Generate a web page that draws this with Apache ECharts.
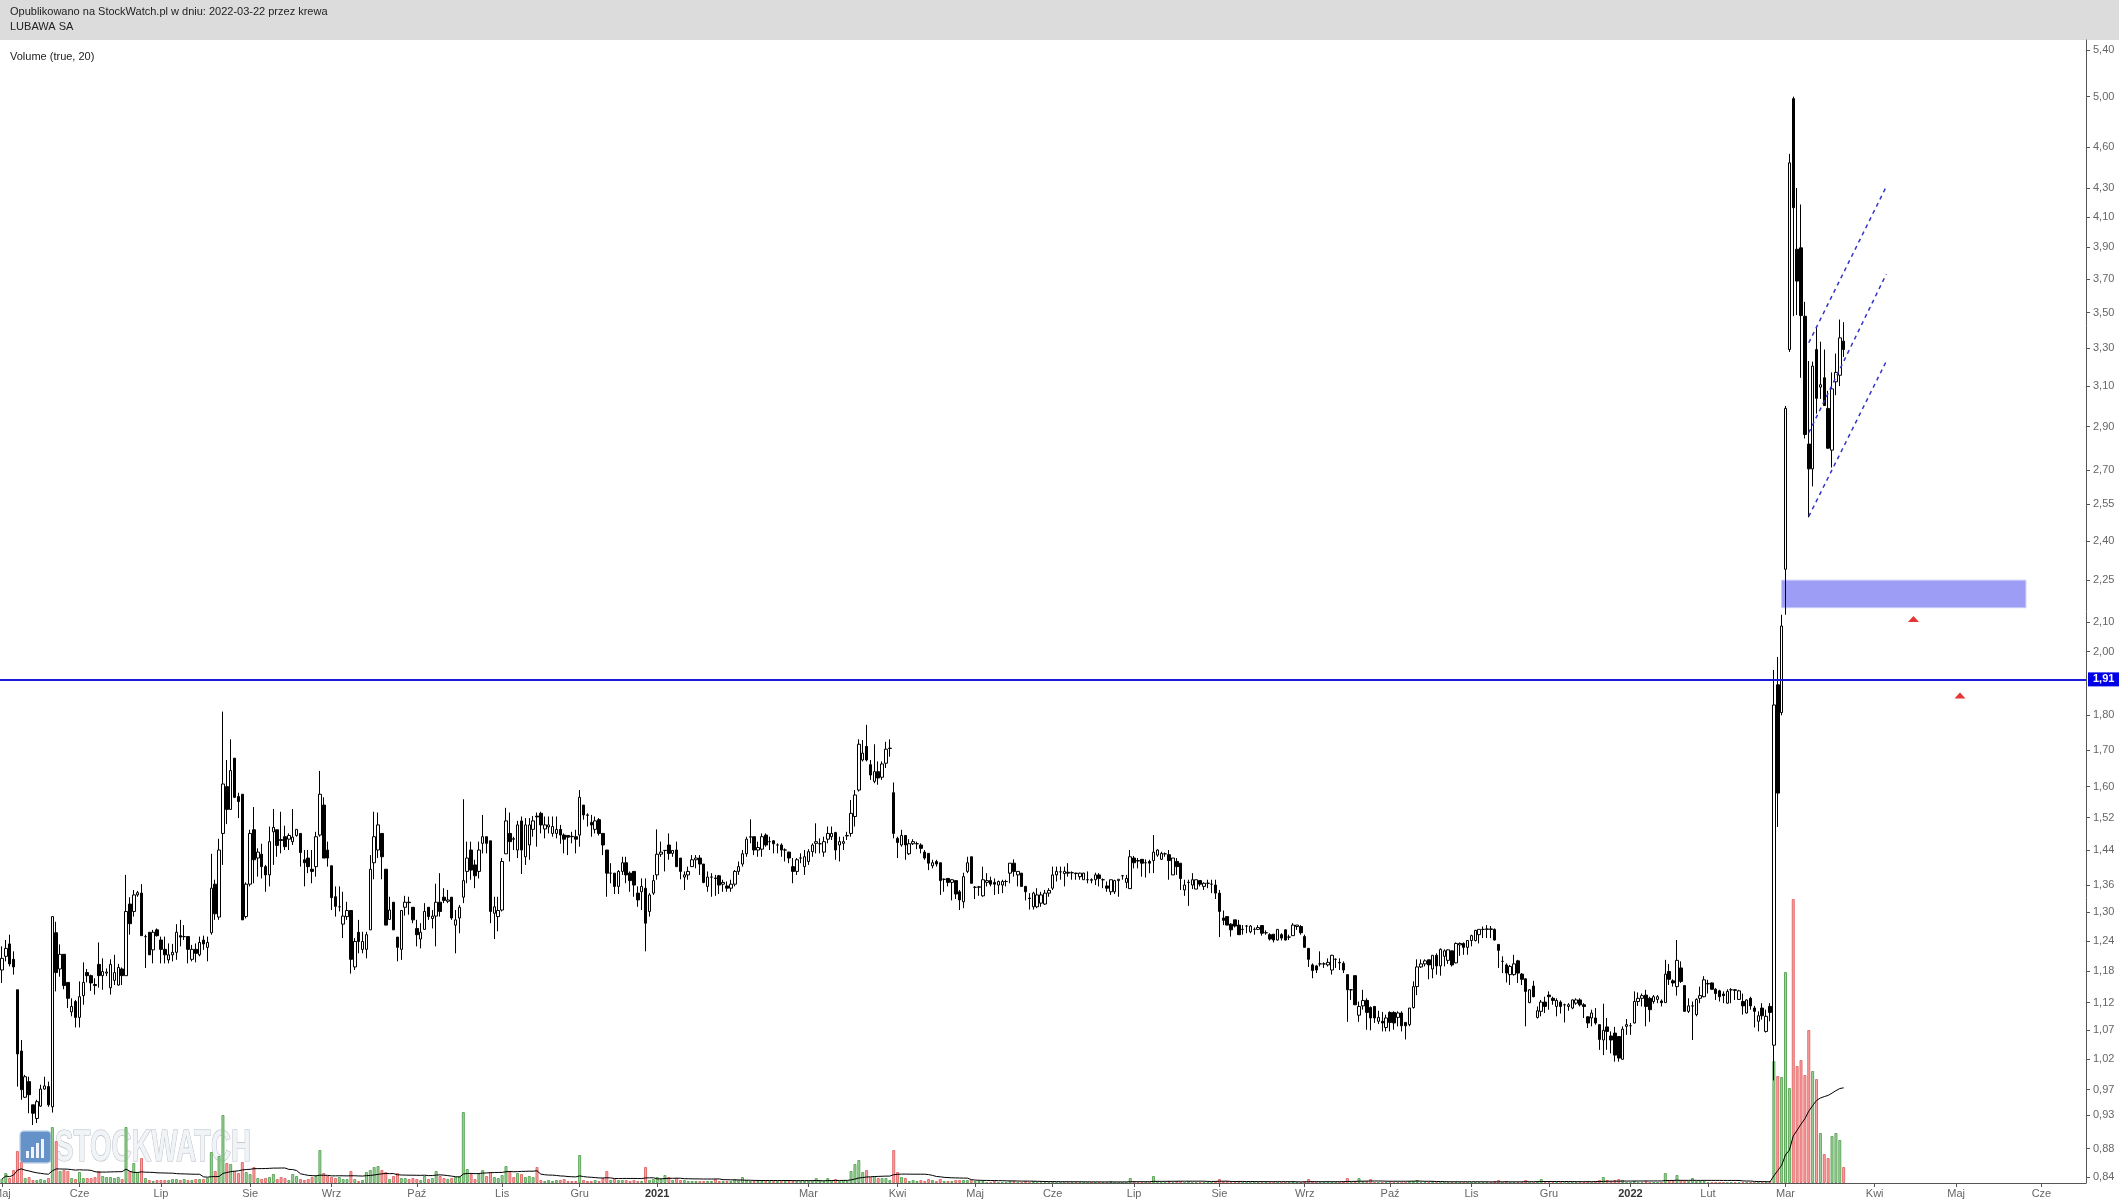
<!DOCTYPE html>
<html><head><meta charset="utf-8">
<script src="https://cdn.jsdelivr.net/npm/echarts@6/dist/echarts.min.js"></script>
<style>html,body{margin:0;padding:0;background:#fff}#c{width:2119px;height:1202px}</style>
</head><body><div id="c"></div>
<script>
// ---------- calendar ----------
const startDate = '2020-05-04';
const lastDataDate = '2022-03-22';
const totalSlots = 538;
const holidays = ['2020-06-11','2020-11-11','2020-12-24','2020-12-25','2020-12-31','2021-01-01','2021-01-06','2021-04-02','2021-04-05','2021-05-03','2021-06-03','2021-11-01','2021-11-11','2021-12-24','2021-12-31','2022-01-06'];
const monthNames = ['Sty','Lut','Mar','Kwi','Maj','Cze','Lip','Sie','Wrz','Paź','Lis','Gru'];
const hiddenMonthLabels = ['2021-02'];

// ---------- price axis ticks ----------
const yTickValues = [5.40,5.00,4.60,4.30,4.10,3.90,3.70,3.50,3.30,3.10,2.90,2.70,2.55,2.40,2.25,2.10,2.00,1.80,1.70,1.60,1.52,1.44,1.36,1.30,1.24,1.18,1.12,1.07,1.02,0.97,0.93,0.88,0.84];
const supportLevel = 1.91;

// ---------- daily candles [open, close, low, high] ----------
const candles = [
[1.182,1.205,1.157,1.229],[1.209,1.225,1.199,1.242],[1.234,1.194,1.189,1.253],[1.203,1.188,1.173,1.219],[1.144,1.029,0.975,1.144],
[1.034,0.970,0.954,1.053],[0.958,0.991,0.957,0.994],[0.983,0.962,0.933,0.991],[0.946,0.933,0.915,0.946],[0.925,0.951,0.918,0.954],
[0.944,0.971,0.943,0.978],[0.971,0.976,0.970,0.991],[0.975,0.946,0.943,0.983],[0.943,1.291,0.934,1.292],[1.257,1.177,1.141,1.280],
[1.184,1.213,1.169,1.233],[1.213,1.152,1.145,1.213],[1.158,1.128,1.110,1.158],[1.103,1.113,1.095,1.128],[1.122,1.093,1.075,1.125],
[1.093,1.131,1.075,1.160],[1.133,1.158,1.116,1.197],[1.177,1.171,1.158,1.184],[1.171,1.157,1.142,1.173],[1.154,1.152,1.135,1.166],
[1.193,1.171,1.148,1.237],[1.171,1.179,1.144,1.205],[1.176,1.178,1.170,1.185],[1.148,1.193,1.135,1.203],[1.162,1.177,1.153,1.212],
[1.153,1.187,1.152,1.194],[1.184,1.171,1.153,1.187],[1.171,1.302,1.171,1.383],[1.318,1.276,1.253,1.333],[1.302,1.338,1.291,1.349],
[1.338,1.343,1.334,1.347],[1.342,1.251,1.251,1.362],[1.249,1.249,1.186,1.253],[1.258,1.212,1.212,1.258],[1.222,1.258,1.195,1.263],
[1.263,1.251,1.249,1.266],[1.242,1.223,1.195,1.249],[1.223,1.212,1.195,1.249],[1.202,1.212,1.195,1.235],[1.212,1.217,1.199,1.234],
[1.217,1.258,1.202,1.275],[1.251,1.248,1.229,1.284],[1.249,1.249,1.242,1.273],[1.249,1.223,1.195,1.249],[1.203,1.223,1.199,1.232],
[1.223,1.215,1.197,1.235],[1.212,1.237,1.209,1.249],[1.242,1.234,1.222,1.251],[1.227,1.237,1.199,1.249],[1.257,1.353,1.253,1.432],
[1.362,1.297,1.284,1.372],[1.290,1.441,1.284,1.468],[1.481,1.607,1.406,1.811],[1.600,1.541,1.504,1.672],[1.541,1.643,1.540,1.730],
[1.677,1.572,1.570,1.677],[1.574,1.561,1.519,1.584],[1.580,1.284,1.284,1.580],[1.291,1.362,1.287,1.366],[1.362,1.481,1.357,1.490],
[1.490,1.418,1.364,1.547],[1.422,1.436,1.379,1.445],[1.431,1.402,1.375,1.456],[1.402,1.383,1.345,1.406],[1.383,1.461,1.357,1.498],
[1.485,1.496,1.406,1.542],[1.490,1.452,1.425,1.490],[1.466,1.464,1.433,1.535],[1.473,1.449,1.441,1.500],[1.467,1.476,1.441,1.481],
[1.461,1.472,1.453,1.542],[1.476,1.491,1.473,1.491],[1.481,1.435,1.402,1.481],[1.418,1.411,1.357,1.441],[1.422,1.402,1.387,1.441],
[1.396,1.391,1.364,1.441],[1.402,1.473,1.379,1.485],[1.477,1.580,1.473,1.642],[1.552,1.422,1.422,1.572],[1.441,1.422,1.402,1.461],
[1.404,1.332,1.305,1.404],[1.334,1.313,1.291,1.357],[1.312,1.312,1.302,1.357],[1.275,1.292,1.246,1.345],[1.291,1.304,1.284,1.323],
[1.304,1.203,1.175,1.304],[1.188,1.239,1.182,1.246],[1.258,1.239,1.215,1.284],[1.223,1.239,1.215,1.259],[1.223,1.253,1.205,1.259],
[1.263,1.396,1.263,1.429],[1.411,1.473,1.373,1.535],[1.441,1.502,1.422,1.533],[1.481,1.425,1.373,1.481],[1.396,1.273,1.273,1.396],
[1.285,1.305,1.284,1.334],[1.322,1.263,1.263,1.322],[1.248,1.227,1.199,1.248],[1.223,1.304,1.202,1.304],[1.311,1.322,1.293,1.336],
[1.322,1.321,1.295,1.334],[1.311,1.284,1.277,1.311],[1.266,1.253,1.229,1.284],[1.244,1.258,1.225,1.277],[1.264,1.302,1.264,1.320],
[1.311,1.291,1.284,1.311],[1.287,1.292,1.266,1.305],[1.292,1.322,1.229,1.363],[1.322,1.302,1.291,1.387],[1.333,1.326,1.320,1.353],
[1.324,1.327,1.320,1.349],[1.333,1.288,1.284,1.333],[1.273,1.284,1.215,1.305],[1.288,1.311,1.256,1.316],[1.333,1.370,1.320,1.567],
[1.391,1.422,1.364,1.461],[1.441,1.394,1.372,1.461],[1.406,1.381,1.353,1.418],[1.391,1.441,1.375,1.461],[1.457,1.473,1.433,1.527],
[1.473,1.457,1.433,1.473],[1.463,1.302,1.277,1.463],[1.298,1.312,1.244,1.334],[1.291,1.304,1.260,1.334],[1.305,1.414,1.302,1.422],
[1.432,1.512,1.432,1.545],[1.481,1.461,1.414,1.533],[1.468,1.467,1.441,1.473],[1.441,1.502,1.422,1.512],[1.512,1.441,1.385,1.523],
[1.425,1.502,1.406,1.519],[1.453,1.502,1.418,1.519],[1.491,1.512,1.473,1.524],[1.524,1.522,1.449,1.533],[1.531,1.502,1.481,1.535],
[1.492,1.502,1.469,1.523],[1.497,1.502,1.481,1.523],[1.481,1.498,1.473,1.523],[1.481,1.491,1.469,1.523],[1.491,1.477,1.456,1.502],
[1.477,1.467,1.433,1.481],[1.476,1.472,1.429,1.477],[1.474,1.473,1.457,1.485],[1.473,1.467,1.433,1.490],[1.477,1.572,1.449,1.591],
[1.552,1.527,1.515,1.552],[1.527,1.526,1.498,1.531],[1.508,1.502,1.473,1.527],[1.491,1.512,1.481,1.523],[1.515,1.481,1.476,1.519],
[1.481,1.453,1.429,1.481],[1.441,1.387,1.334,1.441],[1.387,1.387,1.364,1.410],[1.387,1.357,1.340,1.387],[1.357,1.391,1.340,1.394],
[1.391,1.411,1.383,1.425],[1.411,1.383,1.364,1.425],[1.387,1.370,1.345,1.391],[1.391,1.360,1.334,1.391],[1.342,1.327,1.312,1.357],
[1.345,1.357,1.305,1.375],[1.353,1.277,1.219,1.375],[1.302,1.338,1.291,1.342],[1.342,1.370,1.338,1.383],[1.383,1.431,1.372,1.491],
[1.431,1.436,1.425,1.461],[1.440,1.440,1.391,1.441],[1.453,1.433,1.418,1.481],[1.433,1.440,1.425,1.441],[1.441,1.402,1.401,1.461],
[1.422,1.391,1.373,1.422],[1.378,1.383,1.349,1.391],[1.383,1.391,1.372,1.402],[1.402,1.418,1.402,1.429],[1.418,1.422,1.398,1.429],
[1.422,1.408,1.383,1.429],[1.408,1.366,1.364,1.408],[1.357,1.378,1.345,1.391],[1.378,1.378,1.334,1.387],[1.376,1.375,1.336,1.383],
[1.381,1.360,1.340,1.383],[1.362,1.366,1.345,1.372],[1.358,1.353,1.345,1.368],[1.353,1.362,1.345,1.372],[1.362,1.391,1.357,1.394],
[1.391,1.402,1.383,1.414],[1.408,1.432,1.402,1.441],[1.432,1.467,1.425,1.473],[1.472,1.473,1.457,1.516],[1.473,1.441,1.429,1.473],
[1.441,1.447,1.425,1.461],[1.443,1.473,1.425,1.481],[1.477,1.453,1.449,1.481],[1.461,1.461,1.441,1.473],[1.463,1.456,1.433,1.465],
[1.453,1.453,1.433,1.457],[1.453,1.441,1.425,1.457],[1.441,1.441,1.414,1.445],[1.436,1.422,1.410,1.437],[1.402,1.391,1.364,1.422],
[1.391,1.418,1.383,1.422],[1.422,1.422,1.410,1.433],[1.402,1.425,1.383,1.441],[1.414,1.437,1.406,1.443],[1.437,1.453,1.425,1.457],
[1.457,1.461,1.433,1.506],[1.456,1.456,1.433,1.469],[1.436,1.461,1.425,1.473],[1.467,1.481,1.457,1.498],[1.473,1.481,1.465,1.498],
[1.483,1.441,1.418,1.485],[1.453,1.461,1.414,1.473],[1.457,1.461,1.441,1.473],[1.475,1.476,1.465,1.485],[1.481,1.531,1.473,1.565],
[1.523,1.578,1.498,1.591],[1.591,1.716,1.587,1.730],[1.672,1.691,1.668,1.728],[1.710,1.672,1.668,1.772],[1.659,1.631,1.618,1.672],
[1.614,1.640,1.609,1.716],[1.640,1.623,1.605,1.668],[1.625,1.661,1.618,1.668],[1.663,1.702,1.650,1.723],[1.704,1.705,1.681,1.730],
[1.584,1.481,1.469,1.611],[1.469,1.459,1.422,1.473],[1.453,1.476,1.449,1.490],[1.476,1.453,1.418,1.476],[1.432,1.456,1.429,1.467],
[1.456,1.461,1.453,1.467],[1.456,1.456,1.443,1.461],[1.453,1.445,1.433,1.457],[1.436,1.422,1.418,1.441],[1.433,1.410,1.394,1.433],
[1.404,1.411,1.398,1.418],[1.414,1.408,1.402,1.418],[1.411,1.370,1.338,1.411],[1.373,1.373,1.345,1.375],[1.375,1.366,1.357,1.375],
[1.366,1.372,1.326,1.373],[1.370,1.340,1.329,1.370],[1.345,1.327,1.305,1.349],[1.323,1.379,1.309,1.388],[1.391,1.411,1.387,1.425],
[1.425,1.364,1.364,1.425],[1.355,1.355,1.329,1.358],[1.355,1.356,1.336,1.358],[1.336,1.372,1.334,1.402],[1.366,1.370,1.357,1.387],
[1.370,1.362,1.357,1.379],[1.366,1.362,1.338,1.375],[1.360,1.368,1.340,1.370],[1.360,1.368,1.342,1.372],[1.368,1.368,1.357,1.372],
[1.387,1.410,1.364,1.410],[1.410,1.391,1.379,1.419],[1.383,1.391,1.357,1.391],[1.387,1.357,1.357,1.387],[1.357,1.345,1.326,1.358],
[1.331,1.330,1.306,1.342],[1.312,1.342,1.306,1.345],[1.312,1.338,1.309,1.353],[1.320,1.338,1.312,1.345],[1.318,1.342,1.316,1.349],
[1.342,1.348,1.334,1.353],[1.353,1.383,1.349,1.402],[1.383,1.391,1.368,1.402],[1.390,1.390,1.372,1.402],[1.386,1.391,1.357,1.402],
[1.389,1.387,1.379,1.410],[1.388,1.388,1.372,1.391],[1.387,1.386,1.372,1.388],[1.379,1.387,1.372,1.388],[1.372,1.387,1.372,1.388],
[1.372,1.372,1.364,1.391],[1.372,1.371,1.364,1.375],[1.372,1.383,1.360,1.388],[1.383,1.375,1.357,1.387],[1.372,1.372,1.353,1.375],
[1.358,1.353,1.345,1.368],[1.345,1.372,1.338,1.372],[1.345,1.370,1.340,1.372],[1.370,1.373,1.334,1.373],[1.381,1.381,1.372,1.383],
[1.366,1.375,1.353,1.383],[1.352,1.425,1.351,1.441],[1.422,1.411,1.398,1.427],[1.416,1.415,1.398,1.422],[1.419,1.410,1.379,1.419],
[1.411,1.411,1.377,1.419],[1.414,1.410,1.387,1.418],[1.416,1.436,1.387,1.477],[1.429,1.441,1.425,1.443],[1.419,1.433,1.418,1.437],
[1.432,1.432,1.425,1.435],[1.430,1.416,1.372,1.441],[1.383,1.422,1.383,1.422],[1.414,1.402,1.383,1.422],[1.410,1.375,1.349,1.410],
[1.349,1.360,1.336,1.372],[1.366,1.366,1.314,1.372],[1.360,1.372,1.351,1.387],[1.351,1.372,1.351,1.372],[1.370,1.362,1.357,1.370],
[1.357,1.364,1.349,1.366],[1.364,1.364,1.353,1.372],[1.362,1.362,1.342,1.372],[1.360,1.342,1.329,1.372],[1.342,1.302,1.248,1.349],
[1.288,1.283,1.273,1.304],[1.291,1.273,1.273,1.291],[1.275,1.263,1.249,1.277],[1.284,1.271,1.268,1.284],[1.273,1.253,1.253,1.284],
[1.264,1.264,1.253,1.273],[1.271,1.271,1.256,1.273],[1.259,1.271,1.256,1.273],[1.264,1.264,1.253,1.268],[1.264,1.268,1.263,1.273],
[1.272,1.256,1.251,1.273],[1.257,1.257,1.253,1.262],[1.253,1.244,1.241,1.256],[1.254,1.242,1.237,1.254],[1.242,1.264,1.241,1.264],
[1.253,1.246,1.241,1.256],[1.263,1.242,1.241,1.264],[1.248,1.248,1.242,1.253],[1.251,1.273,1.251,1.277],[1.270,1.273,1.263,1.273],
[1.270,1.257,1.253,1.273],[1.249,1.227,1.227,1.253],[1.225,1.203,1.188,1.225],[1.192,1.181,1.166,1.195],[1.190,1.182,1.176,1.192],
[1.194,1.194,1.189,1.219],[1.194,1.194,1.186,1.197],[1.192,1.197,1.189,1.205],[1.182,1.211,1.173,1.212],[1.203,1.203,1.186,1.205],
[1.197,1.196,1.182,1.205],[1.195,1.182,1.176,1.199],[1.173,1.144,1.085,1.173],[1.144,1.144,1.125,1.145],[1.171,1.116,1.116,1.171],
[1.097,1.113,1.085,1.122],[1.114,1.124,1.107,1.144],[1.124,1.102,1.071,1.128],[1.111,1.092,1.070,1.113],[1.113,1.092,1.083,1.113],
[1.086,1.093,1.081,1.105],[1.086,1.083,1.068,1.103],[1.075,1.092,1.068,1.098],[1.102,1.084,1.068,1.104],[1.102,1.083,1.071,1.104],
[1.093,1.101,1.077,1.104],[1.101,1.078,1.068,1.104],[1.084,1.078,1.054,1.084],[1.080,1.110,1.077,1.110],[1.111,1.150,1.109,1.160],
[1.150,1.188,1.134,1.203],[1.188,1.194,1.186,1.203],[1.194,1.200,1.189,1.203],[1.202,1.192,1.164,1.202],[1.184,1.211,1.166,1.211],
[1.211,1.190,1.173,1.215],[1.190,1.223,1.171,1.225],[1.209,1.220,1.189,1.223],[1.201,1.222,1.194,1.223],[1.220,1.192,1.189,1.220],
[1.196,1.235,1.195,1.237],[1.232,1.235,1.210,1.237],[1.235,1.227,1.212,1.237],[1.227,1.241,1.212,1.241],[1.241,1.251,1.229,1.253],
[1.241,1.262,1.239,1.263],[1.253,1.264,1.235,1.264],[1.264,1.264,1.246,1.270],[1.264,1.265,1.246,1.273],[1.265,1.264,1.246,1.271],
[1.264,1.242,1.241,1.266],[1.233,1.221,1.186,1.233],[1.199,1.199,1.176,1.209],[1.192,1.176,1.158,1.195],[1.173,1.189,1.153,1.192],
[1.173,1.194,1.171,1.212],[1.200,1.176,1.157,1.202],[1.174,1.164,1.153,1.176],[1.165,1.141,1.077,1.165],[1.120,1.144,1.119,1.145],
[1.151,1.131,1.130,1.161],[1.093,1.105,1.091,1.113],[1.104,1.121,1.095,1.125],[1.121,1.113,1.101,1.131],[1.134,1.131,1.107,1.141],
[1.128,1.124,1.116,1.131],[1.113,1.124,1.095,1.128],[1.121,1.113,1.100,1.124],[1.116,1.116,1.084,1.118],[1.113,1.116,1.105,1.119],
[1.110,1.125,1.108,1.126],[1.119,1.125,1.116,1.128],[1.125,1.116,1.113,1.128],[1.116,1.113,1.092,1.119],[1.094,1.083,1.074,1.095],
[1.092,1.101,1.077,1.107],[1.092,1.083,1.080,1.110],[1.080,1.054,1.036,1.080],[1.053,1.070,1.027,1.118],[1.076,1.068,1.036,1.092],
[1.060,1.053,1.030,1.068],[1.065,1.027,1.016,1.076],[1.059,1.022,1.016,1.059],[1.020,1.072,1.019,1.077],[1.077,1.080,1.062,1.090],
[1.078,1.078,1.062,1.083],[1.083,1.122,1.082,1.141],[1.122,1.128,1.114,1.139],[1.128,1.133,1.113,1.137],[1.134,1.113,1.077,1.144],
[1.128,1.107,1.085,1.131],[1.122,1.131,1.118,1.134],[1.126,1.131,1.119,1.134],[1.123,1.120,1.113,1.126],[1.120,1.174,1.120,1.202],
[1.179,1.164,1.153,1.194],[1.161,1.157,1.150,1.164],[1.150,1.201,1.133,1.242],[1.186,1.160,1.157,1.199],[1.152,1.104,1.104,1.152],
[1.104,1.114,1.101,1.128],[1.114,1.114,1.053,1.122],[1.098,1.126,1.095,1.128],[1.128,1.133,1.119,1.150],[1.131,1.163,1.130,1.170],
[1.155,1.156,1.137,1.163],[1.157,1.145,1.144,1.158],[1.145,1.137,1.125,1.147],[1.142,1.131,1.122,1.144],[1.136,1.133,1.119,1.141],
[1.119,1.141,1.118,1.145],[1.144,1.144,1.119,1.147],[1.144,1.143,1.125,1.145],[1.126,1.142,1.125,1.144],[1.122,1.114,1.098,1.137],
[1.101,1.125,1.100,1.126],[1.128,1.114,1.107,1.131],[1.110,1.104,1.075,1.114],[1.086,1.096,1.068,1.104],[1.110,1.096,1.089,1.119],
[1.068,1.095,1.066,1.107],[1.113,1.102,1.086,1.119],[1.044,1.831,0.985,1.940],[1.893,1.583,1.497,1.982],[1.808,2.086,1.800,2.125],
[2.291,2.988,2.125,3.000],[3.293,4.482,3.280,4.549],[4.983,4.162,3.480,5.000],[3.886,3.687,3.486,4.300],[3.895,3.483,3.143,4.184],
[3.479,2.862,2.843,3.563],[2.817,2.704,2.496,3.231],[2.704,3.204,2.627,3.228],[3.293,3.038,2.962,3.419],[3.095,3.107,3.035,3.336],
[3.143,3.002,3.000,3.293],[2.988,2.798,2.795,3.076],[2.789,3.086,2.710,3.171],[3.122,3.171,3.054,3.271],[3.156,3.357,3.100,3.460],
[3.339,3.293,3.253,3.445]
];

// ---------- daily volume (thousand shares) ----------
const volumes = [
400,1000,500,1300,3200,2100,500,600,300,300, 400,300,500,5600,4200,1200,1300,1200,500,400,
1100,500,500,500,600,1200,700,600,600,500, 600,400,5600,1200,2000,1100,2500,500,300,200,
300,300,300,300,400,400,300,400,300,300, 400,400,400,500,3100,1200,2700,6800,2000,1900,
1200,1000,2100,1100,900,1600,500,400,500,600, 900,400,600,500,300,900,700,400,300,400,
600,700,3300,1000,700,600,500,600,400,400, 1200,400,200,300,1100,1300,1600,1700,1300,1100,
400,700,1000,500,500,400,500,400,300,700, 400,500,1200,700,500,400,500,600,700,7100,
1400,900,400,900,1300,700,1100,600,500,800, 1700,1100,600,1000,900,600,700,600,1600,300,
200,300,200,300,300,400,200,200,200,2800, 300,200,200,300,200,500,1200,300,400,300,
300,300,200,300,200,200,1600,300,400,600, 400,800,600,300,500,300,300,200,200,200,
200,200,200,200,400,200,200,200,200,400, 300,600,300,200,200,200,200,200,200,200,
200,200,200,200,200,200,200,200,200,300, 500,300,200,500,300,400,200,300,200,1200,
1900,2300,1100,1300,600,700,500,500,500,300, 3300,1100,600,500,200,300,200,300,200,400,
300,200,400,200,200,200,300,300,300,300, 300,200,200,200,100,100,200,100,100,100,
200,200,100,100,200,100,200,100,100,100, 100,200,100,100,100,100,100,100,100,100,
100,100,100,100,100,100,200,100,100,100, 100,500,200,100,100,100,100,700,200,100,
100,200,100,200,200,100,200,100,100,100, 100,100,100,200,400,200,200,100,100,200,
100,100,100,100,100,100,100,100,100,100, 100,100,100,200,100,100,200,400,200,100,
100,100,100,100,100,100,200,500,100,200, 500,200,200,400,100,100,100,100,100,100,
100,100,100,200,200,300,100,100,100,200, 100,100,100,100,100,100,100,100,100,100,
100,100,100,100,100,200,300,100,200,100, 100,100,100,300,100,100,200,400,100,100,
100,100,100,100,100,100,100,100,100,200, 100,200,300,600,300,200,300,400,300,100,
100,200,100,100,200,100,100,100,100,1000, 300,200,800,300,300,200,500,200,200,200,
100,100,100,100,100,100,100,100,100,100, 100,100,100,100,100,100,200,
12200,10700,10600,21100,9500,28400,11700,12300,10800,15300,11200,10400,5000,2900,2500,4700,5000,4300,1600
];
const maPeriod = 20;

// ---------- drawings ----------
const channelLines = [ // [startIndex, startValue, endIndex, endValue]
  [466, 3.33, 486, 4.31],
  [466, 2.87, 486, 3.73],
  [466, 2.50, 486, 3.23]
];
const zoneBox = {fromIndex: 459, toIndex: 522, top: 2.25, bottom: 2.15};
const alertMarks = [[493, 2.11], [505, 1.86]];

// ---------- build categories ----------
function fmt(d){return d.getUTCFullYear()+'-'+String(d.getUTCMonth()+1).padStart(2,'0')+'-'+String(d.getUTCDate()).padStart(2,'0');}
const categories = [];
(function(){
  const d = new Date(startDate+'T00:00:00Z');
  while (categories.length < totalSlots) {
    const wd = d.getUTCDay(); const s = fmt(d);
    const future = s > lastDataDate;
    if (wd !== 0 && wd !== 6 && (future || holidays.indexOf(s) < 0)) categories.push(s);
    d.setUTCDate(d.getUTCDate()+1);
  }
})();
const monthStart = categories.map((c,i)=> i===0 || c.slice(0,7)!==categories[i-1].slice(0,7));
const showMonth = categories.map((c,i)=> monthStart[i] && hiddenMonthLabels.indexOf(c.slice(0,7))<0);

const volMA = volumes.map((v,i)=>{
  const s = Math.max(0, i-maPeriod+1); let sum=0;
  for (let k=s;k<=i;k++) sum+=volumes[k];
  return +(sum/(i-s+1)).toFixed(1);
});
const volData = volumes.map((v,i)=>{
  const up = candles[i][1] >= candles[i][0];
  return {value: v, itemStyle: up ? {color:'#a2d29e', borderColor:'#5fa85c'} : {color:'#ffa0a0', borderColor:'#e26e6e'}};
});

const FONT = '"Liberation Sans", Arial, sans-serif';
const chart = echarts.init(document.getElementById('c'), null, {renderer:'canvas'});
const series = [
  {
    type:'candlestick', name:'LUBAWA', xAxisIndex:0, yAxisIndex:0, data:candles, barWidth:3,
    itemStyle:{color:'#ffffff', color0:'#000000', borderColor:'#000000', borderColor0:'#000000', borderWidth:1},
    markLine:{silent:true, symbol:['none','none'], animation:false,
      data:[{yAxis: supportLevel}],
      lineStyle:{color:'#1a1ad8', width:2, type:'solid'},
      label:{show:true, position:'end', distance:2, formatter: supportLevel.toFixed(2).replace('.',','), color:'#ffffff', backgroundColor:'#0000e6', fontWeight:'bold', fontSize:11, fontFamily:FONT, padding:[2,5,1,5]}
    },
    markArea:{silent:true,
      itemStyle:{color:'#9d9df6', borderColor:'#c9c9ff', borderWidth:1},
      data:[[{xAxis: categories[zoneBox.fromIndex], yAxis: zoneBox.top},{xAxis: categories[zoneBox.toIndex], yAxis: zoneBox.bottom}]]
    }
  },
  {
    type:'bar', name:'Volume', xAxisIndex:1, yAxisIndex:1, data:volData, barWidth:3,
    itemStyle:{borderWidth:1}
  },
  {
    type:'line', name:'Volume MA', xAxisIndex:1, yAxisIndex:1, data:volMA, symbol:'none',
    lineStyle:{color:'#000000', width:1}, z:5
  }
];
channelLines.forEach(l=>{
  series.push({type:'line', xAxisIndex:0, yAxisIndex:0, symbol:'none', z:6,
    data:[[categories[l[0]], l[1]],[categories[l[2]], l[3]]],
    lineStyle:{color:'#3434c8', width:1.5, type:[4,4]}});
});
series.push({type:'scatter', xAxisIndex:0, yAxisIndex:0, symbol:'triangle', symbolSize:[11,6], z:7,
  itemStyle:{color:'#e00000'},
  data: alertMarks.map(a=>[categories[a[0]], a[1]])});

const xLabelFormatter = (value)=>{
  const y = value.slice(0,4), m = +value.slice(5,7)-1;
  return m===0 ? '{y|'+y+'}' : monthNames[m];
};
const xInterval = (index)=> !!showMonth[index];

chart.setOption({
  animation:false,
  backgroundColor:'#ffffff',
  grid:[
    {left:0, right:33, top:40, bottom:19, containLabel:false, outerBoundsMode:'none'},
    {left:0, right:33, top:883, bottom:19, containLabel:false, outerBoundsMode:'none'}
  ],
  xAxis:[
    {type:'category', gridIndex:0, data:categories, boundaryGap:true,
      axisLine:{show:true, onZero:false, lineStyle:{color:'#555', width:1}},
      axisTick:{show:true, alignWithLabel:true, interval:xInterval, length:4, lineStyle:{color:'#555'}},
      axisLabel:{show:true, interval:xInterval, formatter:xLabelFormatter, color:'#666', fontSize:11, fontFamily:FONT, margin:5,
        rich:{y:{fontWeight:'bold', color:'#333', fontSize:11, fontFamily:FONT}}},
      splitLine:{show:false}},
    {type:'category', gridIndex:1, data:categories, boundaryGap:true, show:false}
  ],
  yAxis:[
    {type:'log', logBase:10, gridIndex:0, position:'right', min:0.8315, max:5.49, scale:true,
      axisLine:{show:true, lineStyle:{color:'#555', width:1}},
      axisTick:{show:true, length:4, customValues:yTickValues, lineStyle:{color:'#555'}},
      axisLabel:{show:true, customValues:yTickValues, margin:7, color:'#666', fontSize:11, fontFamily:FONT,
        formatter:(v)=> Number(v).toFixed(2).replace('.',',')},
      splitLine:{show:false}},
    {type:'value', gridIndex:1, min:0, max:30000, show:false, splitLine:{show:false}}
  ],
  series: series,
  graphic:[
    {type:'rect', left:0, top:0, z:-10, shape:{width:2119, height:40}, style:{fill:'#dcdcdc'}},
    {type:'text', left:10, top:6, style:{text:'Opublikowano na StockWatch.pl w dniu: 2022-03-22 przez krewa', font:'11px '+FONT, fill:'#222'}},
    {type:'text', left:10, top:21, style:{text:'LUBAWA SA', font:'11px '+FONT, fill:'#222'}},
    {type:'text', left:10, top:51, style:{text:'Volume (true, 20)', font:'11px '+FONT, fill:'#222'}},
    {type:'group', x:20, y:1131, z:100, children:[
      {type:'rect', shape:{x:0,y:0,width:31,height:32,r:4}, style:{fill:'rgba(74,128,192,0.85)', stroke:'rgba(190,210,235,0.9)', lineWidth:1.5}},
      {type:'rect', shape:{x:6,y:20,width:3,height:7}, style:{fill:'rgba(255,255,255,0.9)'}},
      {type:'rect', shape:{x:11,y:16,width:3,height:11}, style:{fill:'rgba(255,255,255,0.9)'}},
      {type:'rect', shape:{x:16,y:12,width:3,height:15}, style:{fill:'rgba(255,255,255,0.9)'}},
      {type:'rect', shape:{x:21,y:8,width:3,height:19}, style:{fill:'rgba(255,255,255,0.9)'}},
      {type:'text', x:35, y:-4, scaleX:0.63, style:{text:'STOCKWATCH', font:'bold 44px '+FONT, fill:'rgba(240,243,246,0.92)', stroke:'rgba(150,158,168,0.7)', lineWidth:1.2, shadowColor:'rgba(80,90,100,0.45)', shadowBlur:3, shadowOffsetX:1, shadowOffsetY:1}}
    ]}
  ]
});
</script></body></html>
